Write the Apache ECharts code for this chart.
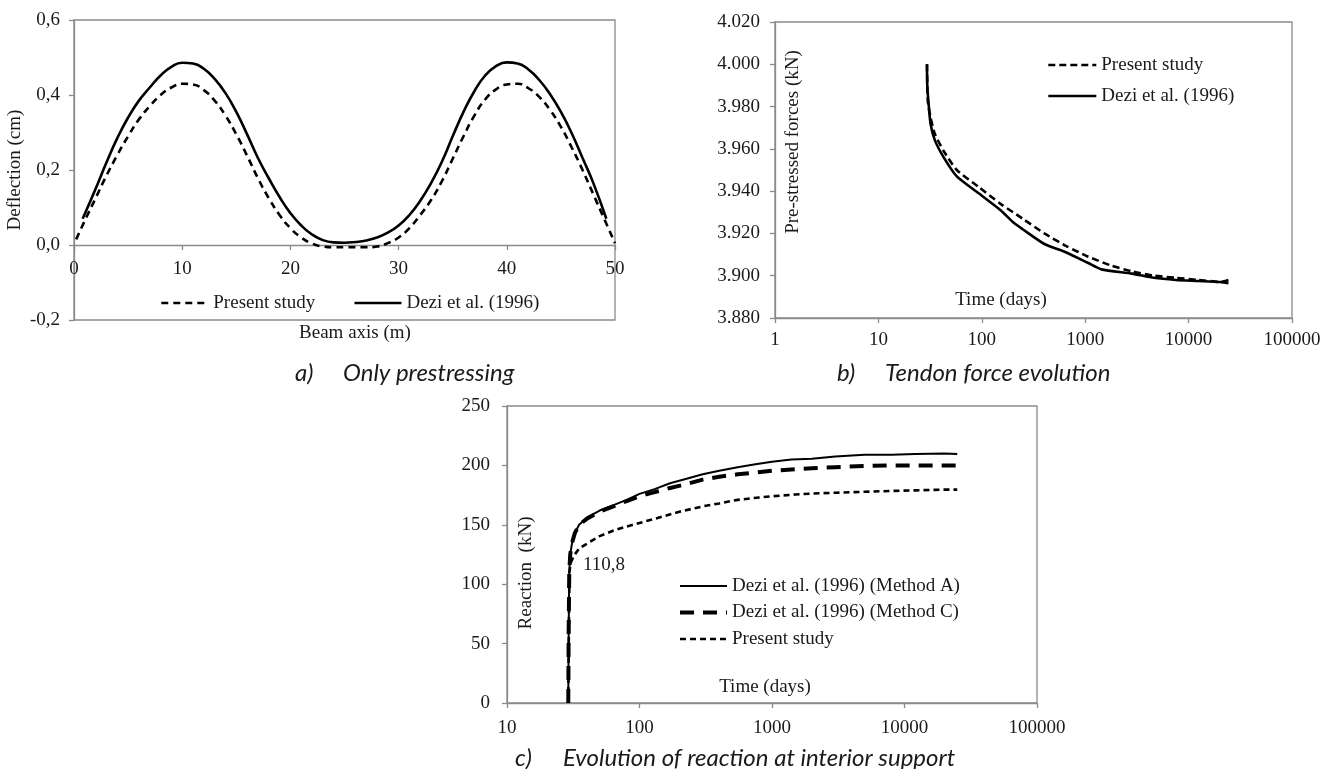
<!DOCTYPE html>
<html>
<head>
<meta charset="utf-8">
<script src="https://cdn.jsdelivr.net/npm/echarts@6/dist/echarts.min.js"></script>
<style>
html,body{margin:0;padding:0;background:#fff;}
#chart{width:1336px;height:769px;}
</style>
</head>
<body>
<div id="chart"></div>
<script>
// ---------- Panel a: deflection along beam ----------
const aDeziX = [0.8,2,3,4,5,6,7,8,9,10,11,12,13,14,15,16,17,18,19,20,21,22,23,24,25,26,27,28,29,30,31,32,33,34,35,36,37,38,39,40,41,42,43,44,45,46,47,48,49.2];
const aDeziY = [0.07,0.15,0.22,0.285,0.34,0.385,0.42,0.452,0.475,0.486,0.484,0.47,0.443,0.405,0.355,0.295,0.232,0.178,0.128,0.085,0.052,0.028,0.013,0.007,0.006,0.008,0.012,0.02,0.033,0.052,0.08,0.118,0.165,0.222,0.29,0.355,0.41,0.452,0.477,0.487,0.484,0.468,0.44,0.402,0.355,0.298,0.232,0.165,0.07];
const aPresX = [0.2,1,2,3,4,5,6,7,8,9,10,11,12,13,14,15,16,17,18,19,20,21,22,23,24,25,26,27,28,29,30,31,32,33,34,35,36,37,38,39,40,41,42,43,44,45,46,47,48,49,50];
const aPresY = [0.015,0.065,0.125,0.185,0.24,0.29,0.335,0.37,0.4,0.42,0.43,0.428,0.413,0.385,0.345,0.295,0.238,0.178,0.125,0.08,0.045,0.02,0.004,-0.004,-0.006,-0.006,-0.006,-0.006,-0.004,0.005,0.02,0.045,0.08,0.12,0.17,0.23,0.29,0.345,0.388,0.415,0.428,0.43,0.418,0.395,0.36,0.315,0.26,0.2,0.135,0.07,0.005];

// ---------- Panel b: tendon force ----------
const bDeziT = [29.5,29.7,30.4,31.9,35.2,42.8,57.3,93.3,152,204,248,403,657,1070,1435,2840,4620,7530,12270,20000,24300];
const bDeziF = [4.000,3.990,3.983,3.972,3.964,3.956,3.947,3.939,3.931,3.925,3.922,3.915,3.911,3.906,3.903,3.901,3.899,3.898,3.8975,3.897,3.898];
const bPresT = [29.5,30,31.9,35.2,42.8,57.3,93.3,152,248,403,657,1070,1740,2840,4620,7530,12270,20000,24300];
const bPresF = [4.000,3.983,3.975,3.967,3.959,3.950,3.942,3.934,3.927,3.920,3.914,3.909,3.905,3.902,3.900,3.899,3.898,3.897,3.8965];

// ---------- Panel c: reaction at interior support ----------
const cAT = [29,29.2,29.5,30,31,32.5,35,40,50,65,80,100,130,170,230,300,400,550,750,1000,1400,2000,3000,5000,8000,12000,20000,25000];
const cAR = [0,60,110,125,135,143,150,156,162,167,171,176,180,185,189,192.5,195.5,198.5,201,203,205,205.5,207.5,209,209,209.5,210,209.5];
const cCT = [29,29.2,29.5,30,31,32.5,35,40,50,65,80,100,130,170,230,300,400,550,750,1000,1400,2000,3000,5000,8000,12000,20000,25000];
const cCR = [0,60,110,125,135,143,150,155,161,166,170,174,177.5,181,184.5,188,190.5,192.5,194,195.5,196.5,197.5,198.5,199.5,200,200,200,200];
const cPT = [29,29.3,29.6,30.5,32,35,40,50,65,80,100,150,200,300,400,550,800,1000,1500,2000,3000,5000,8000,12000,20000,25000];
const cPR = [0,60,110.8,119,124,130,134,140.5,145.5,148.5,151.5,157,161,165.5,168,171,173,174,175.5,176.3,177,177.8,178.5,179,179.6,179.6];

const aXTicks = {min:0, max:50, interval:10};
const aYTicks = {min:-0.2, max:0.6, interval:0.2};
const bYTicks = {min:3.88, max:4.02, interval:0.02};
const cYTicks = {min:0, max:250, interval:50};

function pairs(xs, ys){ return xs.map((x,i)=>[x, ys[i]]); }

const SERIF = '"Liberation Serif", "Times New Roman", serif';
const CAP = 'italic 24px Lato, "Open Sans", sans-serif';
const AX = '#8a8a8a';
const TXT = '#1a1a1a';
const FS = 19;

function valueAxis(extra){
  return Object.assign({
    axisLine:{show:true, onZero:false, lineStyle:{color:AX, width:1.3}},
    axisTick:{show:true, inside:false, length:5, lineStyle:{color:AX, width:1.3}},
    splitLine:{show:false},
    axisLabel:{color:TXT, fontFamily:SERIF, fontSize:FS}
  }, extra);
}

const chart = echarts.init(document.getElementById('chart'), null, {renderer:'canvas'});
const stripName = n => n.replace(/^[abc]:/, '');
const legendCommon = {
  itemStyle:{opacity:0, color:'transparent', borderWidth:0},
  lineStyle:{width:'inherit'},
  textStyle:{fontFamily:SERIF, fontSize:FS, color:TXT, lineHeight:20}
};

const option = {
  animation:false,
  backgroundColor:'#ffffff',
  grid:[
    {left:74, top:20, width:541, height:300, show:true, borderColor:AX, borderWidth:1.3, backgroundColor:'transparent'},
    {left:775, top:22, width:517, height:296, show:true, borderColor:AX, borderWidth:1.3, backgroundColor:'transparent'},
    {left:507, top:406, width:530, height:297, show:true, borderColor:AX, borderWidth:1.3, backgroundColor:'transparent'}
  ],
  xAxis:[
    valueAxis({gridIndex:0, type:'value', min:aXTicks.min, max:aXTicks.max, interval:aXTicks.interval, offset:-75,
      axisLabel:{color:TXT, fontFamily:SERIF, fontSize:FS, margin:15}}),
    valueAxis({gridIndex:1, type:'log', logBase:10, min:1, max:100000,
      axisLabel:{color:TXT, fontFamily:SERIF, fontSize:FS, margin:13, formatter:v=>String(Math.round(v))}}),
    valueAxis({gridIndex:2, type:'log', logBase:10, min:10, max:100000,
      axisLabel:{color:TXT, fontFamily:SERIF, fontSize:FS, margin:16, formatter:v=>String(Math.round(v))}})
  ],
  yAxis:[
    valueAxis({gridIndex:0, type:'value', min:aYTicks.min, max:aYTicks.max, interval:aYTicks.interval,
      axisLabel:{color:TXT, fontFamily:SERIF, fontSize:FS, margin:14, formatter:v=>v.toFixed(1).replace('.',',')}}),
    valueAxis({gridIndex:1, type:'value', min:bYTicks.min, max:bYTicks.max, interval:bYTicks.interval,
      axisLabel:{color:TXT, fontFamily:SERIF, fontSize:FS, margin:15, formatter:v=>v.toFixed(3)}}),
    valueAxis({gridIndex:2, type:'value', min:cYTicks.min, max:cYTicks.max, interval:cYTicks.interval,
      axisLabel:{color:TXT, fontFamily:SERIF, fontSize:FS, margin:17}})
  ],
  legend:[
    Object.assign({data:['a:Present study','a:Dezi et al. (1996)'], formatter:stripName, orient:'horizontal',
     left:155, top:288, itemWidth:47, itemHeight:14, itemGap:38}, legendCommon),
    Object.assign({data:['b:Present study','b:Dezi et al. (1996)'], formatter:stripName, orient:'vertical',
     left:1042, top:50, itemWidth:48, itemHeight:14, itemGap:11}, legendCommon),
    Object.assign({data:['c:Dezi et al. (1996) (Method A)','c:Dezi et al. (1996) (Method C)','c:Present study'], formatter:stripName, orient:'vertical',
     left:673, top:571, itemWidth:47, itemHeight:14, itemGap:6.5}, legendCommon)
  ],
  series:[
    {name:'a:Present study', type:'line', xAxisIndex:0, yAxisIndex:0, data:pairs(aPresX,aPresY), smooth:0.5, symbol:'none',
     itemStyle:{color:'#000'}, lineStyle:{color:'#000', width:2.6, type:[7,5]}},
    {name:'a:Dezi et al. (1996)', type:'line', xAxisIndex:0, yAxisIndex:0, data:pairs(aDeziX,aDeziY), smooth:0.5, symbol:'none',
     itemStyle:{color:'#000'}, lineStyle:{color:'#000', width:2.6, type:'solid'}},
    {name:'b:Present study', type:'line', xAxisIndex:1, yAxisIndex:1, data:pairs(bPresT,bPresF), smooth:0.2, symbol:'none',
     itemStyle:{color:'#000'}, lineStyle:{color:'#000', width:2.6, type:[7,4]}},
    {name:'b:Dezi et al. (1996)', type:'line', xAxisIndex:1, yAxisIndex:1, data:pairs(bDeziT,bDeziF), smooth:0.2, symbol:'none',
     itemStyle:{color:'#000'}, lineStyle:{color:'#000', width:2.6, type:'solid'}},
    {name:'c:Dezi et al. (1996) (Method A)', type:'line', xAxisIndex:2, yAxisIndex:2, data:pairs(cAT,cAR), symbol:'none',
     itemStyle:{color:'#000'}, lineStyle:{color:'#000', width:2, type:'solid'}},
    {name:'c:Dezi et al. (1996) (Method C)', type:'line', xAxisIndex:2, yAxisIndex:2, data:pairs(cCT,cCR), symbol:'none',
     itemStyle:{color:'#000'}, lineStyle:{color:'#000', width:4, type:[14,9]}},
    {name:'c:Present study', type:'line', xAxisIndex:2, yAxisIndex:2, data:pairs(cPT,cPR), symbol:'none',
     itemStyle:{color:'#000'}, lineStyle:{color:'#000', width:2.6, type:[6,4]}}
  ],
  graphic:[
    {type:'text', x:15, y:170, rotation:Math.PI/2, style:{text:'Deflection (cm)', font:FS+'px '+SERIF, fill:TXT, align:'center', verticalAlign:'middle'}},
    {type:'text', x:355, y:333, style:{text:'Beam axis (m)', font:FS+'px '+SERIF, fill:TXT, align:'center', verticalAlign:'middle'}},
    {type:'text', x:793, y:142, rotation:Math.PI/2, style:{text:'Pre-stressed forces (kN)', font:FS+'px '+SERIF, fill:TXT, align:'center', verticalAlign:'middle'}},
    {type:'text', x:1001, y:300, style:{text:'Time (days)', font:FS+'px '+SERIF, fill:TXT, align:'center', verticalAlign:'middle'}},
    {type:'text', x:526, y:573, rotation:Math.PI/2, style:{text:'Reaction  (kN)', font:FS+'px '+SERIF, fill:TXT, align:'center', verticalAlign:'middle'}},
    {type:'text', x:583, y:565, style:{text:'110,8', font:FS+'px '+SERIF, fill:TXT, align:'left', verticalAlign:'middle'}},
    {type:'text', x:765, y:687, style:{text:'Time (days)', font:FS+'px '+SERIF, fill:TXT, align:'center', verticalAlign:'middle'}},
    {type:'text', x:295, y:373, style:{text:'a)', font:CAP, fill:TXT, align:'left', verticalAlign:'middle'}},
    {type:'text', x:343, y:373, style:{text:'Only prestressing', font:CAP, fill:TXT, align:'left', verticalAlign:'middle'}},
    {type:'text', x:837, y:373, style:{text:'b)', font:CAP, fill:TXT, align:'left', verticalAlign:'middle'}},
    {type:'text', x:885, y:373, style:{text:'Tendon force evolution', font:CAP, fill:TXT, align:'left', verticalAlign:'middle'}},
    {type:'text', x:515, y:758, style:{text:'c)', font:CAP, fill:TXT, align:'left', verticalAlign:'middle'}},
    {type:'text', x:563, y:758, style:{text:'Evolution of reaction at interior support', font:CAP, fill:TXT, align:'left', verticalAlign:'middle'}}
  ]
};
chart.setOption(option);
</script>
</body>
</html>
